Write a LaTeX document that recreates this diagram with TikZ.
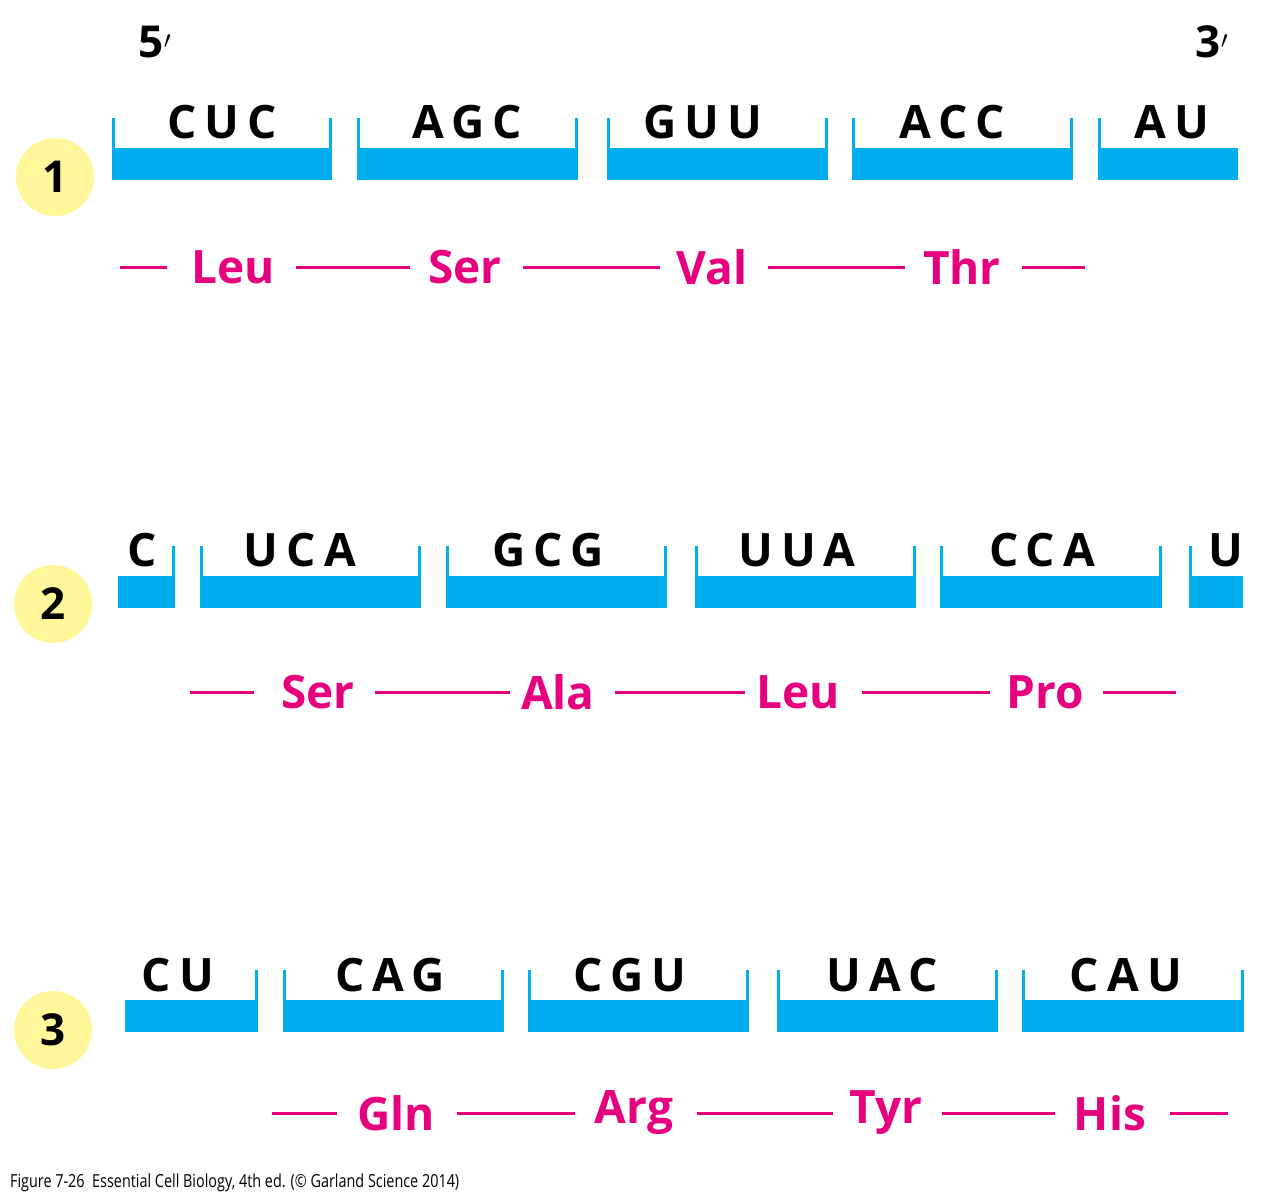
\documentclass[tikz,border=0pt]{standalone}
\usepackage{fontspec}
\setmainfont{Open Sans}
\definecolor{rnablue}{HTML}{00AEEF}
\definecolor{aamag}{HTML}{E6007E}
\definecolor{numyel}{HTML}{FFF799}
\newcommand\mybar[5]{% x1 x2 ybar lefttick righttick
  \fill[rnablue] (#1,#3) rectangle (#2,#3+32);
  \ifnum#4=1 \draw[rnablue,line width=3pt] (#1+1.5,#3) -- (#1+1.5,#3-30);\fi
  \ifnum#5=1 \draw[rnablue,line width=3pt] (#2-1.5,#3) -- (#2-1.5,#3-30);\fi}
\tikzset{codon/.style={font=\fontsize{46}{46}\bfseries\addfontfeature{LetterSpace=18}, text=black, inner sep=0},
 aa/.style={font=\fontsize{46}{46}\bfseries, text=aamag, inner sep=0},
 link/.style={aamag, line width=3pt},
 num/.style={circle, fill=numyel, minimum size=78pt, font=\fontsize{44}{44}\bfseries, inner sep=0}}
\newcommand\links[2]{\foreach \a/\b in {#2} \draw[link] (\a,#1) -- (\b,#1);}
\begin{document}
\begin{tikzpicture}[x=1pt,y=-1pt]
\useasboundingbox (0,0) rectangle (1266,1200);
\node[font=\fontsize{44}{44}\bfseries] (p5) at (155,42) {5$'$};
\node[font=\fontsize{44}{44}\bfseries] (p3) at (1212,42) {3$'$};
% row 1
\node[num] (n1) at (55,177) {1};
\mybar{112}{332}{148}{1}{1}\mybar{357}{578}{148}{1}{1}\mybar{607}{828}{148}{1}{1}\mybar{852}{1073}{148}{1}{1}\mybar{1098}{1238}{148}{1}{0}
\foreach \x/\t [count=\i] in {222/CUC,467/AGC,703/GUU,952/ACC,1172/AU} \node[codon] (a\i) at (\x,122) {\t};
\links{267}{120/167,296/410,523/660,768/905,1022/1085}
\foreach \x/\t [count=\i] in {233/Leu,465/Ser,712/Val,962/Thr} \node[aa] (aa\i) at (\x,267) {\t};
% row 2
\node[num] (n2) at (53,604) {2};
\mybar{118}{175}{576}{0}{1}\mybar{200}{421}{576}{1}{1}\mybar{446}{667}{576}{1}{1}\mybar{695}{916}{576}{1}{1}\mybar{940}{1162}{576}{1}{1}\mybar{1189}{1243}{576}{1}{0}
\foreach \x/\t [count=\i] in {142/C,300/UCA,548/GCG,797/UUA,1042/CCA,1226/U} \node[codon] (b\i) at (\x,550) {\t};
\links{692}{190/254,375/510,615/745,862/990,1103/1176}
\foreach \x/\t [count=\i] in {318/Ser,558/Ala,798/Leu,1045/Pro} \node[aa] (bb\i) at (\x,692) {\t};
% row 3
\node[num] (n3) at (53,1030) {3};
\mybar{125}{258}{1000}{0}{1}\mybar{283}{504}{1000}{1}{1}\mybar{528}{749}{1000}{1}{1}\mybar{777}{998}{1000}{1}{1}\mybar{1022}{1244}{1000}{1}{1}
\foreach \x/\t [count=\i] in {178/CU,390/CAG,630/CGU,882/UAC,1126/CAU} \node[codon] (c\i) at (\x,975) {\t};
\links{1113}{272/337,457/575,697/833,942/1055,1170/1228}
\foreach \x/\t [count=\i] in {396/Gln,634/Arg,886/Tyr,1110/His} \node[aa] (cc\i) at (\x,1113) {\t};
\node[anchor=west, inner sep=0, font=\fontsize{18}{18}\selectfont, xscale=0.8] (cap) at (10,1183) {Figure 7-26\ \ Essential Cell Biology, 4th ed. (© Garland Science 2014)};
\end{tikzpicture}
\end{document}
